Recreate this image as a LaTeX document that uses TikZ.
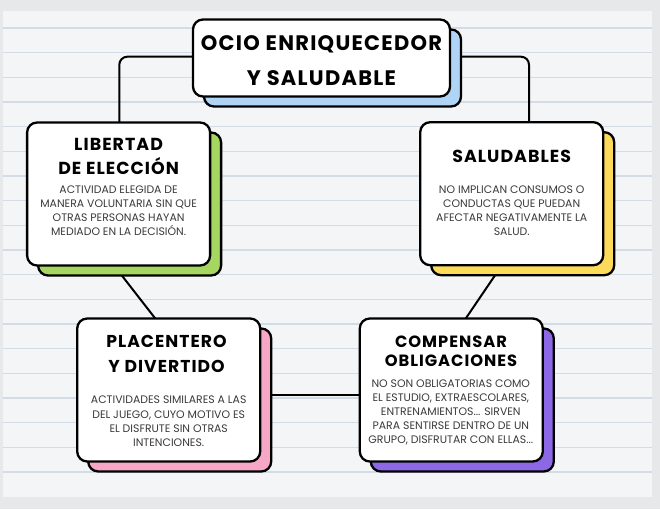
\documentclass[tikz,border=0pt]{standalone}
\usepackage{fontspec}
\setmainfont{Poppins}
\newfontfamily\headfont{Poppins}[LetterSpace=6]
\usetikzlibrary{shadows,calc}
\definecolor{outerbg}{HTML}{E7E8EA}
\definecolor{panelbg}{HTML}{F4F5F7}
\definecolor{ruleline}{HTML}{D3DBE6}
\definecolor{tblue}{HTML}{AFD4F6}
\definecolor{tgreen}{HTML}{A5D65F}
\definecolor{tyellow}{HTML}{FCDA5A}
\definecolor{tpink}{HTML}{F6A7C6}
\definecolor{tpurple}{HTML}{8C68E7}
\definecolor{bodygray}{HTML}{3A3A3A}
\tikzset{
  cardbox/.style={draw=black, line width=2.3pt, fill=white, rounded corners=10pt, inner sep=0pt,
    minimum width=183, minimum height=143},
  backcard/.style={general shadow={shadow xshift=11pt, shadow yshift=-10pt, fill=#1, draw=black, line width=2.3pt}},
  headtext/.style={align=center, inner sep=0pt, text=black, font=\headfont\bfseries\fontsize{17.4}{24}\selectfont},
  bodytext/.style={align=center, inner sep=0pt, text=bodygray, font=\fontsize{10.9}{14}\selectfont},
  link/.style={draw=black, line width=2pt}
}
\begin{document}
\begin{tikzpicture}[x=1pt,y=-1pt]
\useasboundingbox (0,0) rectangle (660,509);
\fill[outerbg] (0,0) rectangle (660,509);
\fill[panelbg] (3,11) rectangle (652,497);
\foreach \k in {0,...,18} \draw[ruleline, line width=1.2pt] (3,{28+24.67*\k}) -- (652,{28+24.67*\k});

% connector end points
\coordinate (libTop) at (119.3,125);
\coordinate (salTop) at (529,125);
\coordinate (titLeft) at (205,56.7);
\coordinate (titRight) at (440,56.7);
\coordinate (libLow) at (116,268);
\coordinate (plaHigh) at (158,322);
\coordinate (salLow) at (500,268);
\coordinate (comHigh) at (462,324);
\coordinate (plaMid) at (262,395);
\coordinate (comMid) at (362,395);

\draw[link, rounded corners=8pt] (titLeft) -| (libTop);
\draw[link, rounded corners=8pt] (titRight) -| (salTop);
\draw[link] (libLow) -- (plaHigh);
\draw[link] (salLow) -- (comHigh);
\draw[link] (plaMid) -- (comMid);

\node[cardbox, minimum width=257, minimum height=77, backcard=tblue] (tit) at (321.5,58) {};
\node[cardbox, backcard=tgreen] (lib) at (118.6,194) {};
\node[cardbox, backcard=tyellow] (sal) at (511.7,193.7) {};
\node[cardbox, backcard=tpink] (pla) at (168.7,390) {};
\node[cardbox, backcard=tpurple] (com) at (451.3,390) {};

\node[headtext, font=\headfont\bfseries\fontsize{21}{35}\selectfont] (titT) at (321.5,60.5) {OCIO ENRIQUECEDOR\\Y SALUDABLE};

\node[headtext] (libT) at (118.6,156) {LIBERTAD\\DE ELECCIÓN};
\node[bodytext] (libB) at (118.6,211) {ACTIVIDAD ELEGIDA DE\\MANERA VOLUNTARIA SIN QUE\\OTRAS PERSONAS HAYAN\\MEDIADO EN LA DECISIÓN.};

\node[headtext] (salT) at (511.7,156.7) {SALUDABLES};
\node[bodytext] (salB) at (511.7,211) {NO IMPLICAN CONSUMOS O\\CONDUCTAS QUE PUEDAN\\AFECTAR NEGATIVAMENTE LA\\SALUD.};

\node[headtext, font=\headfont\bfseries\fontsize{17.2}{25}\selectfont] (plaT) at (166.5,354.2) {PLACENTERO\\Y DIVERTIDO};
\node[bodytext, font=\fontsize{10.9}{14.2}\selectfont] (plaB) at (168.7,421.3) {ACTIVIDADES SIMILARES A LAS\\DEL JUEGO, CUYO MOTIVO ES\\EL DISFRUTE SIN OTRAS\\INTENCIONES.};

\node[headtext, font=\headfont\bfseries\fontsize{16.3}{19.5}\selectfont] (comT) at (451,351.3) {COMPENSAR\\OBLIGACIONES};
\node[bodytext] (comB) at (450.8,412) {NO SON OBLIGATORIAS COMO\\EL ESTUDIO, EXTRAESCOLARES,\\ENTRENAMIENTOS... SIRVEN\\PARA SENTIRSE DENTRO DE UN\\GRUPO, DISFRUTAR CON ELLAS...};
\end{tikzpicture}
\end{document}
